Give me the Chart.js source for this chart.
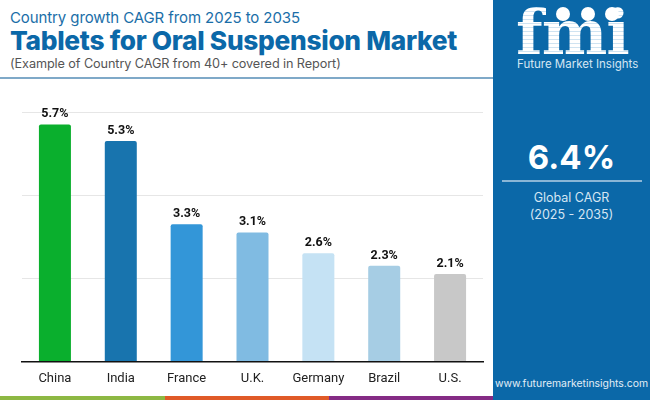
<!DOCTYPE html>
<html>
<head>
  <meta charset="UTF-8">
  <title>Tablets for Oral Suspension Market</title>
  <style>
    html, body { margin: 0; padding: 0; background: #fff; }
    body { width: 650px; height: 400px; position: relative; overflow: hidden; font-family: Inter, sans-serif; }
    .abs { position: absolute; white-space: nowrap; }
    #sub { left: 10px; top: 8px; font-size: 15px; color: #1a6ea8; letter-spacing: -0.1px; }
    #main { left: 10px; top: 25px; font-size: 26.3px; font-weight: 800; color: #0b68a8; letter-spacing: -0.3px; }
    #note { left: 10px; top: 56px; font-size: 12.7px; color: #555; letter-spacing: -0.1px; }
    #rule { left: 0; top: 77px; width: 493px; height: 2px; background: #7fa9c8; }
    #panel { left: 493px; top: 0; width: 157px; height: 400px; background: #0b68a8; }
    #logo { left: 516px; top: -4px; font: bold 62px "DejaVu Serif", serif; letter-spacing: -1px; color: transparent;
      background: repeating-linear-gradient(180deg, #fff 0, #fff 3px, #cfe3f1 3px, #cfe3f1 4px); -webkit-background-clip: text; background-clip: text; }
    .dot { position: absolute; width: 14px; height: 14px; border-radius: 50%; background: #fff; top: 7px; }
    #brand { left: 517px; top: 57px; font-size: 11.5px; color: #d5e6f3; }
    #big { left: 493px; width: 157px; top: 137px; text-align: center; font-size: 33px; font-weight: 700; color: #fff; }
    #line2 { left: 502px; top: 180px; width: 140px; height: 2px; background: #8ab6d6; }
    #glob { left: 493px; width: 157px; top: 189px; text-align: center; font-size: 12.5px; line-height: 17px; color: #d5e6f3; white-space: normal; }
    #url { left: 493px; width: 157px; top: 377px; text-align: center; font-size: 10.4px; color: #e2eef7; }
    .strip { position: absolute; top: 396px; height: 4px; }
    #chartBox { position: absolute; left: 0; top: 80px; width: 493px; height: 316px; }
  </style>
</head>
<body>
  <div class="abs" id="sub">Country growth CAGR from 2025 to 2035</div>
  <div class="abs" id="main">Tablets for Oral Suspension Market</div>
  <div class="abs" id="note">(Example of Country CAGR from 40+ covered in Report)</div>
  <div class="abs" id="rule"></div>

  <div class="abs" id="panel"></div>
  <div class="abs" id="logo">fmi</div>
  <div class="dot" style="left:556px"></div>
  <div class="dot" style="left:581px"></div>
  <div class="dot" style="left:605px"></div>
  <div class="abs" id="brand">Future Market Insights</div>
  <div class="abs" id="big">6.4%</div>
  <div class="abs" id="line2"></div>
  <div class="abs" id="glob">Global CAGR<br>(2025 - 2035)</div>
  <div class="abs" id="url">www.futuremarketinsights.com</div>

  <div class="strip" style="left:0;width:165px;background:#8db843"></div>
  <div class="strip" style="left:165px;width:164px;background:#e05a28"></div>
  <div class="strip" style="left:329px;width:164px;background:#852b85"></div>

  <div id="chartBox"><canvas id="cagrChart"></canvas></div>

  <script src="https://cdn.jsdelivr.net/npm/chart.js@4"></script>
  <script>
    const countries = ['China', 'India', 'France', 'U.K.', 'Germany', 'Brazil', 'U.S.'];
    const cagrValues = [5.7, 5.3, 3.3, 3.1, 2.6, 2.3, 2.1];
    const barColors = ['#0aaf2d', '#1874ae', '#3396d8', '#80bbe2', '#c5e2f4', '#a6cde4', '#c8c8c8'];
    const yTicks = [0, 2, 4, 6];

    // Value labels above each bar
    const valueLabels = {
      id: 'valueLabels',
      afterDatasetsDraw(chart) {
        const ctx = chart.ctx;
        ctx.save();
        ctx.font = 'bold 12.5px Roboto';
        ctx.fillStyle = '#111';
        ctx.textAlign = 'center';
        ctx.textBaseline = 'bottom';
        chart.getDatasetMeta(0).data.forEach((bar, i) => {
          ctx.fillText(cagrValues[i].toFixed(1) + '%', bar.x, bar.y - 4);
        });
        ctx.restore();
      }
    };

    new Chart(document.getElementById('cagrChart'), {
      type: 'bar',
      data: {
        labels: countries,
        datasets: [{
          data: cagrValues,
          backgroundColor: barColors,
          borderRadius: { topLeft: 2, topRight: 2 },
          borderSkipped: 'bottom',
          categoryPercentage: 1,
          barPercentage: 0.486
        }]
      },
      options: {
        responsive: true,
        maintainAspectRatio: false,
        animation: false,
        layout: { padding: { left: 22, right: 10, top: 32, bottom: 7 } },
        plugins: { legend: { display: false }, tooltip: { enabled: false } },
        scales: {
          x: {
            grid: { display: false },
            border: { color: '#111', width: 1.5 },
            ticks: { color: '#222', font: { family: 'Roboto', size: 13 }, padding: 2, maxRotation: 0 }
          },
          y: {
            min: 0,
            max: 6,
            afterBuildTicks(axis) { axis.ticks = yTicks.map(v => ({ value: v })); },
            afterFit(axis) { axis.width = 0; },
            grid: { color: '#e6e6e6', lineWidth: 1, drawTicks: false },
            border: { display: false },
            ticks: { display: false }
          }
        }
      },
      plugins: [valueLabels]
    });
  </script>
</body>
</html>
